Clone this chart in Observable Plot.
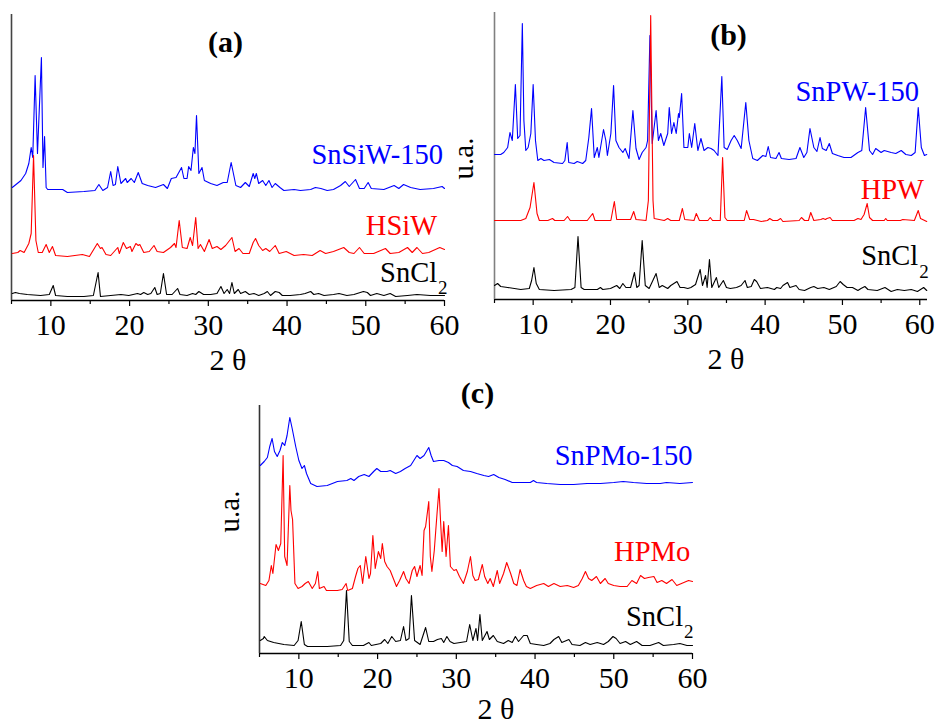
<!DOCTYPE html>
<html>
<head>
<meta charset="utf-8">
<script src="https://cdn.jsdelivr.net/npm/d3@7"></script>
<script src="https://cdn.jsdelivr.net/npm/@observablehq/plot@0.6"></script>
<style>
  html, body { margin: 0; padding: 0; background: #fff; }
  #root { position: relative; width: 936px; height: 727px; overflow: hidden; background: #fff; }
  .panel { position: absolute; }
  .panel svg { overflow: visible; max-width: none !important; }
</style>
</head>
<body>
<div id="root"></div>
<script>
// ---------------- DATA ----------------
const panelTitles = ["(a)", "(b)", "(c)"];
const xAxisTitle = "2 θ";
const yAxisTitle = "u.a.";
const majorTicks = [10, 20, 30, 40, 50, 60];
const minorTicks = [5, 15, 25, 35, 45, 55];

const namesA = ["SnSiW-150", "HSiW", "SnCl"];
const namesB = ["SnPW-150", "HPW", "SnCl"];
const namesC = ["SnPMo-150", "HPMo", "SnCl"];
const subscriptText = "2";

// Panel (a): 2θ (deg), intensity (u.a., offset traces)
const aSnSiW150 = [[5.1,113],[6.2,120],[6.8,127],[7.2,137],[7.5,153],[7.7,143],[8.0,225],[8.3,147],[8.8,243],[9.0,133],[9.2,164],[9.4,113],[9.6,111],[11.5,111],[12.1,108],[14.2,109],[15.6,110],[16.1,116],[16.6,110],[17.2,113],[17.6,129],[17.9,115],[18.2,116],[18.5,134],[18.9,117],[19.5,122],[19.7,118],[20.2,122],[20.6,118],[21.1,128],[21.6,117],[22.3,115],[23.3,113],[24.3,116],[24.8,112],[25.3,122],[25.9,123],[26.6,133],[26.9,122],[27.3,122],[27.5,134],[27.8,130],[28.1,153],[28.3,147],[28.5,185],[28.8,127],[29.2,133],[29.5,120],[30.3,117],[31.1,115],[31.9,118],[32.4,118],[32.9,138],[33.5,115],[34.1,113],[34.7,118],[35.2,114],[35.7,127],[35.9,122],[36.1,127],[36.4,117],[36.9,120],[37.3,115],[37.7,120],[38.1,113],[38.5,117],[39.1,113],[39.6,110],[40.9,111],[41.7,110],[43.0,111],[43.6,113],[44.3,112],[45.1,110],[45.9,111],[46.8,115],[47.4,119],[47.9,114],[48.7,121],[49.2,112],[49.8,112],[50.3,118],[50.7,112],[52.3,111],[53.6,115],[54.2,112],[54.8,116],[55.7,113],[56.9,111],[58.6,112],[59.7,114],[60.0,112]];
const aHSiW = [[5.1,47],[5.8,48],[6.1,50],[6.6,48],[7.2,57],[7.5,67],[7.8,145],[8.1,60],[8.4,48],[8.9,48],[9.4,56],[9.8,48],[10.2,54],[10.6,45],[12.1,44],[14.0,46],[14.9,44],[15.9,57],[16.3,52],[16.5,53],[17.0,46],[17.6,45],[18.5,53],[18.7,47],[19.2,58],[19.6,52],[20.1,54],[20.3,49],[20.8,57],[21.1,55],[21.3,56],[21.8,48],[22.5,49],[23.1,55],[23.5,49],[24.3,48],[25.2,53],[25.7,57],[25.9,53],[26.3,80],[26.7,53],[27.3,52],[27.7,63],[28.0,55],[28.4,83],[28.7,52],[29.0,56],[29.5,49],[30.1,61],[30.5,52],[31.1,54],[31.6,51],[32.2,55],[33.0,63],[33.4,49],[33.9,52],[34.4,47],[35.2,47],[35.7,58],[36.0,62],[36.4,55],[36.9,50],[37.3,52],[37.8,49],[38.5,55],[39.0,47],[39.9,49],[40.9,45],[42.1,46],[43.2,45],[44.2,50],[44.9,47],[45.9,49],[47.2,53],[47.9,48],[48.5,47],[49.2,53],[49.8,47],[51.0,47],[52.5,52],[53.1,47],[54.2,48],[55.3,53],[55.9,48],[56.5,53],[57.2,47],[58.0,48],[59.4,53],[60.0,51]];
const aSnCl2 = [[5.1,7],[5.5,8],[6.0,7],[7.0,6],[8.7,5],[9.8,6],[10.3,15],[10.6,5],[12.1,4],[14.2,4],[15.4,5],[16.0,28],[16.3,4],[17.6,5],[18.9,6],[19.9,5],[21.0,7],[21.4,6],[21.8,8],[22.3,6],[22.7,7],[23.2,13],[23.5,6],[23.9,7],[24.3,27],[24.7,6],[25.4,6],[26.1,12],[26.4,6],[27.3,5],[28.0,7],[28.4,6],[28.8,9],[29.4,6],[30.3,6],[31.1,7],[31.6,14],[32.0,7],[32.4,11],[32.7,7],[33.0,18],[33.3,7],[33.8,11],[34.1,7],[34.7,9],[35.2,6],[35.8,7],[36.4,5],[37.1,7],[37.5,9],[37.9,5],[38.5,9],[39.0,8],[39.4,5],[40.4,5],[41.7,6],[42.3,7],[43.0,9],[43.4,6],[44.0,7],[44.7,5],[45.9,6],[46.6,7],[47.6,5],[48.5,6],[49.7,9],[50.2,8],[50.6,5],[51.4,7],[52.3,5],[53.1,7],[53.8,4],[55.3,5],[56.5,6],[58.2,5],[60.0,5]];

// Panel (b)
const bSnPW150 = [[5.0,145],[5.8,145],[6.2,147],[6.7,152],[7.0,167],[7.3,159],[7.7,215],[8.0,161],[8.3,164],[8.6,276],[8.8,179],[9.05,149],[9.35,152],[9.7,166],[10.0,215],[10.3,159],[10.6,139],[11.0,141],[11.4,139],[12.1,140],[12.7,137],[13.8,136],[14.1,139],[14.4,157],[14.6,137],[15.3,136],[15.7,138],[16.4,136],[16.8,139],[17.2,162],[17.55,191],[17.9,142],[18.3,152],[18.5,142],[19.1,170],[19.4,159],[19.6,144],[20.05,166],[20.4,214],[20.7,159],[21.1,152],[21.6,147],[21.9,151],[22.4,141],[22.9,189],[23.3,151],[23.7,140],[24.1,147],[24.6,152],[24.8,159],[25.1,264],[25.4,156],[25.9,189],[26.2,159],[26.5,166],[26.9,154],[27.4,166],[27.6,192],[27.9,166],[28.2,177],[28.5,166],[28.8,186],[28.9,182],[29.2,206],[29.5,152],[30.0,152],[30.2,166],[30.5,152],[30.9,176],[31.3,149],[31.7,161],[32.1,149],[32.6,152],[33.0,151],[33.4,149],[33.9,144],[34.4,223],[34.7,152],[35.1,150],[35.6,159],[36.0,164],[36.4,159],[36.9,151],[37.5,197],[37.9,159],[38.4,141],[39.0,139],[39.7,144],[40.1,143],[40.4,153],[40.7,142],[41.4,141],[41.8,147],[42.1,141],[43.1,140],[44.0,141],[44.5,152],[45.0,142],[45.4,147],[45.8,171],[46.3,152],[46.7,148],[47.1,162],[47.4,151],[47.9,149],[48.3,156],[48.7,146],[49.4,144],[50.2,142],[51.1,142],[52.0,147],[52.5,149],[53.0,192],[53.5,149],[53.9,145],[54.3,151],[55.0,147],[55.4,149],[56.3,147],[56.9,146],[57.6,149],[58.2,145],[58.9,144],[59.4,147],[59.8,192],[60.2,152],[60.6,144],[60.9,145]];
const bHPW = [[5.0,79],[8.4,79],[9.05,81],[9.6,92],[10.1,117],[10.5,86],[10.8,79],[11.9,79],[12.5,81],[12.8,79],[14.0,79],[14.45,83],[14.8,79],[17.0,79],[17.7,86],[18.0,79],[20.05,79],[20.5,98],[20.8,80],[22.6,80],[23.0,88],[23.3,80],[24.6,79],[24.9,99],[25.2,284],[25.5,99],[25.65,81],[26.95,79],[27.4,81],[27.8,79],[28.9,79],[29.3,91],[29.6,80],[30.8,79],[31.1,86],[31.5,79],[32.6,79],[32.9,82],[33.2,79],[34.2,79],[34.5,142],[34.8,82],[35.1,79],[37.3,79],[37.6,89],[38.0,80],[38.5,80],[39.5,78],[40.3,79],[40.6,81],[41.0,79],[41.6,79],[42.0,81],[42.3,78],[44.4,79],[44.7,82],[45.1,79],[45.6,79],[45.9,87],[46.3,79],[47.2,80],[47.5,81],[47.8,80],[48.0,81],[48.4,82],[48.7,79],[51.5,79],[52.0,81],[52.4,80],[52.8,85],[53.2,96],[53.5,82],[53.9,79],[55.4,79],[55.6,81],[55.8,79],[57.5,79],[57.8,80],[59.3,79],[59.6,85],[59.8,89],[60.1,81],[60.9,78]];
const bSnCl2 = [[5.0,14],[5.4,16],[5.8,13],[6.7,12],[8.4,10],[9.5,11],[9.8,19],[10.1,32],[10.4,16],[10.8,10],[12.7,9],[14.9,10],[15.4,12],[15.8,63],[16.2,12],[16.6,10],[18.3,10],[18.7,12],[19.0,10],[20.0,11],[20.8,14],[21.2,11],[21.6,16],[22.0,12],[22.6,12],[23.1,27],[23.4,12],[23.7,14],[24.1,59],[24.5,14],[25.0,11],[25.9,26],[26.3,12],[26.7,14],[27.4,11],[27.8,14],[28.6,18],[29.0,12],[29.5,12],[30.0,11],[30.4,12],[31.0,15],[31.6,30],[31.9,14],[32.3,24],[32.5,12],[32.8,40],[33.1,12],[33.7,22],[34.0,12],[34.6,19],[35.0,12],[35.5,11],[36.3,12],[36.9,14],[37.4,19],[37.7,12],[38.2,13],[38.6,20],[38.9,18],[39.4,11],[40.3,12],[41.2,10],[41.5,12],[42.0,11],[42.3,14],[42.9,17],[43.2,12],[44.0,14],[44.4,10],[45.1,9],[45.9,12],[46.3,13],[46.8,11],[47.6,12],[48.3,10],[49.2,13],[49.7,18],[50.1,15],[50.6,12],[51.3,12],[52.0,9],[52.4,11],[52.9,13],[53.3,10],[54.5,9],[55.5,12],[56.3,8],[57.1,10],[58.0,9],[58.9,10],[59.7,8],[60.5,12],[60.9,9]];

// Panel (c)
const cSnPMo150 = [[5.1,188],[5.6,192],[6.0,196],[6.3,207],[6.6,215],[6.9,202],[7.25,197],[7.6,203],[7.9,211],[8.2,208],[8.5,218],[8.85,236],[9.15,225],[9.6,207],[10.0,193],[10.4,185],[10.7,188],[10.97,180],[11.5,170],[12.3,167],[13.6,168],[14.9,172],[16.1,173],[16.6,175],[17.0,173],[17.6,177],[18.3,179],[18.9,177],[19.5,182],[19.9,185],[20.4,182],[21.2,182],[21.6,183],[22.3,180],[22.9,182],[23.5,185],[24.2,188],[24.6,193],[25.0,198],[25.4,195],[25.9,198],[26.5,206],[26.8,198],[27.1,192],[27.8,193],[28.4,193],[29.0,191],[29.5,188],[30.1,187],[30.9,183],[31.8,182],[32.6,180],[33.5,178],[34.1,177],[34.75,179],[35.4,176],[36.2,174],[37.1,171],[38.1,171],[39.4,171],[39.8,173],[40.2,171],[41.5,170],[43.2,169],[44.9,169],[46.6,170],[48.3,170],[50.0,171],[51.2,172],[52.5,171],[54.2,170],[55.9,170],[56.7,171],[58.4,170],[60.0,171]];
const cHPMo = [[5.1,70],[5.8,68],[6.2,73],[6.5,88],[6.7,80],[7.1,109],[7.4,103],[7.7,110],[8.0,198],[8.2,97],[8.5,88],[8.85,168],[9.0,143],[9.2,134],[9.5,70],[9.9,65],[10.4,67],[10.8,70],[11.2,72],[11.7,65],[12.1,70],[12.4,82],[12.6,65],[13.2,67],[13.5,63],[14.9,63],[15.5,64],[16.0,70],[16.2,63],[16.8,65],[17.2,77],[17.5,85],[17.8,88],[18.1,70],[18.5,97],[18.9,75],[19.1,80],[19.4,118],[19.7,85],[20.1,102],[20.4,95],[20.6,110],[20.9,92],[21.2,87],[21.6,83],[22.0,75],[22.4,67],[22.8,73],[23.3,82],[23.6,75],[24.0,70],[24.4,83],[24.7,87],[25.0,77],[25.4,88],[25.65,78],[25.9,123],[26.1,127],[26.5,152],[26.7,97],[26.9,82],[27.2,103],[27.55,140],[27.8,165],[28.0,132],[28.2,102],[28.4,132],[28.7,97],[29.0,128],[29.25,87],[29.7,83],[30.0,84],[30.4,77],[30.9,70],[31.4,82],[31.8,97],[32.1,78],[32.4,73],[32.8,74],[33.3,89],[33.6,77],[34.0,70],[34.3,75],[34.7,67],[35.2,83],[35.5,70],[36.0,80],[36.4,91],[36.9,80],[37.3,70],[37.7,68],[38.1,84],[38.55,73],[38.9,67],[39.4,65],[40.2,68],[41.1,70],[41.7,67],[42.4,70],[43.2,67],[44.1,68],[44.9,66],[45.5,68],[46.0,75],[46.4,82],[46.8,75],[47.2,73],[47.8,77],[48.3,70],[48.9,75],[49.3,70],[50.0,68],[50.8,67],[51.7,67],[52.3,73],[52.9,70],[53.4,78],[53.9,75],[54.4,76],[55.1,77],[55.5,71],[56.1,73],[56.7,70],[57.4,74],[58.0,68],[58.9,71],[59.5,73],[60.0,72]];
const cSnCl2 = [[5.1,13],[5.5,15],[5.6,17],[6.0,13],[6.8,11],[8.1,9],[9.4,8],[9.9,13],[10.3,32],[10.7,9],[11.1,7],[13.6,7],[15.3,8],[15.7,13],[16.05,63],[16.4,12],[16.8,8],[18.2,8],[18.9,11],[19.2,8],[20.4,10],[20.9,14],[21.3,10],[21.8,17],[22.3,12],[22.9,13],[23.3,27],[23.6,13],[24.0,15],[24.3,58],[24.7,13],[25.4,9],[26.1,26],[26.5,12],[27.1,12],[27.6,14],[28.1,15],[28.4,11],[28.8,17],[29.2,12],[29.7,10],[30.5,11],[31.3,12],[31.7,29],[32.1,13],[32.5,25],[32.7,13],[33.0,39],[33.3,13],[33.9,22],[34.2,14],[34.7,18],[35.2,12],[36.0,10],[36.6,13],[37.1,11],[37.5,17],[37.9,12],[38.55,18],[39.0,18],[39.4,10],[40.2,9],[41.1,8],[41.9,10],[42.4,14],[43.0,17],[43.4,11],[44.3,14],[44.7,9],[45.7,8],[46.4,11],[47.0,9],[47.9,11],[48.7,9],[49.3,12],[49.9,17],[50.3,15],[50.8,10],[51.5,12],[52.1,9],[52.9,12],[53.6,8],[54.6,8],[55.7,11],[56.3,8],[57.6,9],[58.4,10],[59.3,8],[60.0,8]];

// ---------------- DRAWING ----------------
const seriesColors = ["#0000ff", "#ff0000", "#000000"];
const FONT = '"Liberation Serif", "Times New Roman", Times, serif';

function rows(pts) { return pts.map(([theta, intensity]) => ({theta, intensity})); }

function makePanel(cfg) {
  const labelRows = cfg.names.map((name, i) => ({name, x: cfg.labelPos[i][0], y: cfg.labelPos[i][1], color: seriesColors[i]}));
  const subRow = [labelRows[2]];
  const marks = [
    Plot.axisX({ticks: minorTicks, tickSize: 4, tickFormat: () => "", label: null, strokeWidth: 1.2}),
    Plot.axisX({ticks: majorTicks, tickSize: 6, tickPadding: 7, fontSize: 30, label: null, strokeWidth: 1.2, fontFamily: FONT}),
    Plot.ruleY([0], {stroke: "#000", strokeWidth: 1.5}),
    Plot.ruleX([cfg.xDomain[0]], {stroke: cfg.axisColor, strokeWidth: 1.6}),
  ];
  cfg.series.forEach((pts, i) => {
    marks.push(Plot.line(rows(pts), {x: "theta", y: "intensity", stroke: seriesColors[i], strokeWidth: 1.1}));
  });
  marks.push(
    Plot.text(labelRows, {x: "x", y: "y", text: "name", fill: d => d.color, textAnchor: "end", lineAnchor: "middle", fontSize: 28.5, fontFamily: FONT}),
    Plot.text(subRow, {x: "x", y: "y", text: () => subscriptText, fill: "#000", textAnchor: "start", lineAnchor: "middle", dx: 1, dy: cfg.subDy, fontSize: 19, fontFamily: FONT}),
    Plot.text([cfg.title], {frameAnchor: "top", lineAnchor: "middle", textAnchor: "middle", dx: cfg.titleD[0], dy: cfg.titleD[1], fontSize: 30, fontWeight: "bold", fontFamily: FONT, fill: "#000"}),
    Plot.text([xAxisTitle], {frameAnchor: "bottom", lineAnchor: "middle", textAnchor: "middle", dx: cfg.xTitleD[0], dy: cfg.xTitleD[1], fontSize: 30, fontFamily: FONT, fill: "#000"})
  );
  if (cfg.uaD) {
    marks.push(Plot.text([yAxisTitle], {frameAnchor: "left", rotate: -90, lineAnchor: "middle", textAnchor: "middle", dx: cfg.uaD[0], dy: cfg.uaD[1], fontSize: 29, fontFamily: FONT, fill: "#000"}));
  }
  const svg = Plot.plot({
    width: cfg.width, height: cfg.height,
    marginLeft: cfg.m[0], marginRight: cfg.m[1], marginTop: cfg.m[2], marginBottom: cfg.m[3],
    x: {domain: cfg.xDomain, axis: null},
    y: {domain: [0, cfg.yMax], axis: null},
    style: {background: "transparent", fontFamily: FONT, color: "#000", overflow: "visible"},
    marks
  });
  const div = document.createElement("div");
  div.className = "panel";
  div.style.left = cfg.left + "px";
  div.style.top = cfg.top + "px";
  div.style.width = cfg.width + "px";
  div.style.height = cfg.height + "px";
  div.appendChild(svg);
  document.getElementById("root").appendChild(div);
}

makePanel({
  left: 0, top: 0, width: 460, height: 375, m: [11, 16, 14, 75],
  xDomain: [5, 60], yMax: 286, axisColor: "#444",
  series: [aSnSiW150, aHSiW, aSnCl2], names: namesA,
  labelPos: [[59.8, 146], [59.06, 75], [59.06, 28]], subDy: 15,
  title: panelTitles[0], titleD: [-2.5, 27.4], xTitleD: [0, 60]
});
makePanel({
  left: 440, top: 0, width: 496, height: 375, m: [54, 9, 12, 76],
  xDomain: [5, 61], yMax: 287, axisColor: "#808080",
  series: [bSnPW150, bHPW, bSnCl2], names: namesB,
  labelPos: [[59.9, 208], [60.55, 110], [59.8, 44]], subDy: 16,
  title: panelTitles[1], titleD: [17.5, 22.4], xTitleD: [15, 60], uaD: [-31, 2.5]
});
makePanel({
  left: 190, top: 370, width: 510, height: 357, m: [69, 8, 35, 74],
  xDomain: [5, 60], yMax: 248, axisColor: "#333",
  series: [cSnPMo150, cHPMo, cSnCl2], names: namesC,
  labelPos: [[60.0, 198], [59.7, 102], [58.8, 37]], subDy: 15,
  title: panelTitles[2], titleD: [1.5, -12.6], xTitleD: [20, 56], uaD: [-30, -18]
});
</script>
</body>
</html>
